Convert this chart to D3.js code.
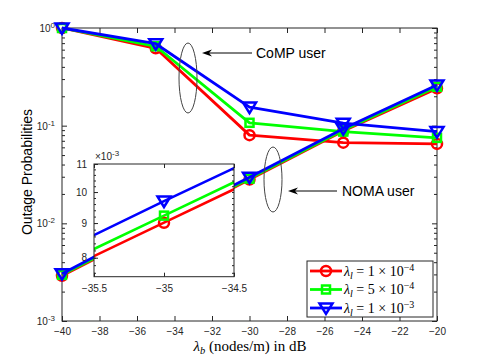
<!DOCTYPE html>
<html>
<head>
<meta charset="utf-8">
<script src="https://cdn.jsdelivr.net/npm/d3@7"></script>
<style>
  body { margin: 0; background: #fff; }
  svg { display: block; }
  .tk text { font-family: "Liberation Sans", Arial, sans-serif; font-size: 10px; fill: #262626; }
  .tk path, .tk line { stroke: #262626; }
</style>
</head>
<body>
<svg id="chart" width="485" height="361"></svg>
<script>
// x positions (dB)
var xVals = [-40, -35, -30, -25, -20];
var xTicks = [-40, -38, -36, -34, -32, -30, -28, -26, -24, -22, -20];
var yTicks = [1e-3, 1e-2, 1e-1, 1];

// CoMP user curves
var compRed = [1.0, 0.62, 0.080, 0.067, 0.065];
var compGreen = [1.0, 0.65, 0.107, 0.087, 0.075];
var compBlue = [1.0, 0.69, 0.155, 0.106, 0.087];

// NOMA user curves
var nomaRed = [0.0029, 0.00901, 0.0281, 0.088, 0.241];
var nomaGreen = [0.00297, 0.00923, 0.0287, 0.090, 0.250];
var nomaBlue = [0.00305, 0.0097, 0.0297, 0.093, 0.261];

var legendExp = ["1", "5", "1"];
var legendPow = ["\u22124", "\u22124", "\u22123"];

var insetXTicks = [-35.5, -35, -34.5];
var insetYTicks = [8e-3, 9e-3, 1e-2, 11e-3];

var series = [
  {color: "#ff0000", mark: "circle", comp: compRed, noma: nomaRed},
  {color: "#00ff00", mark: "square", comp: compGreen, noma: nomaGreen},
  {color: "#0000ff", mark: "tri", comp: compBlue, noma: nomaBlue}
];

var svg = d3.select("#chart");

var x = d3.scaleLinear().domain([-40, -20]).range([62, 437]);
var y = d3.scaleLog().domain([1e-3, 1]).range([321, 28]);

var xi = d3.scaleLinear().domain([-35.5, -34.5]).range([94, 234]);
var yi = d3.scaleLog().domain([7.5e-3, 11e-3]).range([276.7, 164]);

function minorLog(lo, hi) {
  var out = [];
  for (var e = lo; e < hi; e++) {
    for (var k = 2; k <= 9; k++) out.push(k * Math.pow(10, e));
  }
  return out;
}

function drawMarker(g, type, cx, cy, color) {
  if (type == "circle") {
    g.append("circle").attr("cx", cx).attr("cy", cy).attr("r", 5)
      .attr("fill", "none").attr("stroke", color).attr("stroke-width", 2.5);
  } else if (type == "square") {
    g.append("rect").attr("x", cx - 4).attr("y", cy - 4).attr("width", 8).attr("height", 8)
      .attr("fill", "none").attr("stroke", color).attr("stroke-width", 2.5);
  } else {
    g.append("path")
      .attr("d", "M" + (cx - 6.5) + "," + (cy - 4.5) + "L" + (cx + 6.5) + "," + (cy - 4.5) + "L" + cx + "," + (cy + 6) + "Z")
      .attr("fill", "none").attr("stroke", color).attr("stroke-width", 2.5);
  }
}

// main axes box and ticks
svg.append("rect").attr("x", 62).attr("y", 28).attr("width", 375).attr("height", 293)
  .attr("fill", "#fff").attr("stroke", "#262626").attr("stroke-width", 1);

svg.append("g").attr("class", "tk").attr("transform", "translate(0,321)")
  .call(d3.axisBottom(x).tickValues(xTicks).tickSize(-5).tickPadding(7).tickFormat(d3.format("d")));
svg.append("g").attr("class", "tk").attr("transform", "translate(0,28)")
  .call(d3.axisTop(x).tickValues(xTicks).tickSize(-5).tickFormat(""));

var yAx = svg.append("g").attr("class", "tk").attr("transform", "translate(62,0)")
  .call(d3.axisLeft(y).tickValues(yTicks).tickSize(-5).tickPadding(12).tickFormat(""));
yAx.selectAll(".tick text").each(function(d) {
  var t = d3.select(this);
  t.attr("x", -7).attr("dy", "0.35em");
  t.append("tspan").text("10");
  t.append("tspan").attr("dy", "-0.5em").attr("font-size", "8px").text(Math.round(Math.log10(d)) == 0 ? "0" : Math.round(Math.log10(d)));
});
svg.append("g").attr("class", "tk").attr("transform", "translate(62,0)")
  .call(d3.axisLeft(y).tickValues(minorLog(-3, 0)).tickSize(-3).tickFormat(""));
svg.append("g").attr("class", "tk").attr("transform", "translate(437,0)")
  .call(d3.axisRight(y).tickValues(yTicks).tickSize(-5).tickFormat(""));
svg.append("g").attr("class", "tk").attr("transform", "translate(437,0)")
  .call(d3.axisRight(y).tickValues(minorLog(-3, 0)).tickSize(-3).tickFormat(""));
svg.selectAll(".tk .domain").remove();

// main curves
var line = d3.line().x(function(d, i) { return x(xVals[i]); }).y(function(d) { return y(d); });
var plot = svg.append("g");
series.forEach(function(s) {
  [s.comp, s.noma].forEach(function(arr) {
    plot.append("path").datum(arr).attr("d", line)
      .attr("fill", "none").attr("stroke", s.color).attr("stroke-width", 2.8).attr("stroke-linejoin", "round");
    arr.forEach(function(v, i) { drawMarker(plot, s.mark, x(xVals[i]), y(v), s.color); });
  });
});

// inset
svg.append("clipPath").attr("id", "inclip").append("rect")
  .attr("x", 94).attr("y", 164).attr("width", 140).attr("height", 112.7);
svg.append("rect").attr("x", 94).attr("y", 164).attr("width", 140).attr("height", 112.7)
  .attr("fill", "#fff");
var ins = svg.append("g").attr("clip-path", "url(#inclip)");
var lineI = d3.line().x(function(d, i) { return xi(xVals[i]); }).y(function(d) { return yi(d); });
series.forEach(function(s) {
  ins.append("path").datum(s.noma).attr("d", lineI)
    .attr("fill", "none").attr("stroke", s.color).attr("stroke-width", 2.5);
  s.noma.forEach(function(v, i) { drawMarker(ins, s.mark, xi(xVals[i]), yi(v), s.color); });
});
svg.append("rect").attr("x", 94).attr("y", 164).attr("width", 140).attr("height", 112.7)
  .attr("fill", "none").attr("stroke", "#262626").attr("stroke-width", 1);

var insetMinor = [];
for (var v = 7.6; v <= 10.95; v += 0.2) insetMinor.push(v * 1e-3);

svg.append("g").attr("class", "tk").attr("transform", "translate(0,276.7)")
  .call(d3.axisBottom(xi).tickValues(insetXTicks).tickSize(-4).tickPadding(8).tickFormat(d3.format("")));
svg.append("g").attr("class", "tk").attr("transform", "translate(0,164)")
  .call(d3.axisTop(xi).tickValues(insetXTicks).tickSize(-4).tickFormat(""));
svg.append("g").attr("class", "tk").attr("transform", "translate(94,0)")
  .call(d3.axisLeft(yi).tickValues(insetYTicks).tickSize(-4).tickPadding(7)
    .tickFormat(function(d) { return Math.round(d * 1000); }));
svg.append("g").attr("class", "tk").attr("transform", "translate(94,0)")
  .call(d3.axisLeft(yi).tickValues(insetMinor).tickSize(-2).tickFormat(""));
svg.append("g").attr("class", "tk").attr("transform", "translate(234,0)")
  .call(d3.axisRight(yi).tickValues(insetMinor).tickSize(-2).tickFormat(""));
svg.selectAll(".tk .domain").remove();

var mult = svg.append("text").attr("x", 95).attr("y", 160)
  .attr("font-family", "Liberation Sans, Arial, sans-serif").attr("font-size", "10px").attr("fill", "#262626");
mult.append("tspan").text("\u00d710");
mult.append("tspan").attr("dy", "-0.45em").attr("font-size", "8px").text("-3");

// annotations
function arrow(x1, x2, yy) {
  svg.append("line").attr("x1", x1).attr("x2", x2 + 4).attr("y1", yy).attr("y2", yy)
    .attr("stroke", "#000").attr("stroke-width", 1);
  svg.append("path")
    .attr("d", "M" + x2 + "," + yy + "L" + (x2 + 10) + "," + (yy - 3.5) + "L" + (x2 + 7) + "," + yy + "L" + (x2 + 10) + "," + (yy + 3.5) + "Z")
    .attr("fill", "#000");
}
svg.append("ellipse").attr("cx", 188).attr("cy", 78).attr("rx", 9).attr("ry", 35)
  .attr("fill", "none").attr("stroke", "#444").attr("stroke-width", 1);
svg.append("ellipse").attr("cx", 273).attr("cy", 179.5).attr("rx", 9).attr("ry", 32.5)
  .attr("fill", "none").attr("stroke", "#444").attr("stroke-width", 1);
arrow(252, 202, 53);
arrow(337, 288, 191);
svg.append("text").attr("x", 256).attr("y", 58).text("CoMP user")
  .attr("font-family", "Liberation Sans, Arial, sans-serif").attr("font-size", "14px").attr("fill", "#000");
svg.append("text").attr("x", 342).attr("y", 196).text("NOMA user")
  .attr("font-family", "Liberation Sans, Arial, sans-serif").attr("font-size", "14px").attr("fill", "#000");

// legend
var lg = svg.append("g");
lg.append("rect").attr("x", 307).attr("y", 261).attr("width", 126).attr("height", 56)
  .attr("fill", "#fff").attr("stroke", "#262626").attr("stroke-width", 1);
series.forEach(function(s, i) {
  var ly = 271 + i * 18.5;
  lg.append("line").attr("x1", 310).attr("x2", 342).attr("y1", ly).attr("y2", ly)
    .attr("stroke", s.color).attr("stroke-width", 2.8);
  drawMarker(lg, s.mark, 326, ly, s.color);
  var t = lg.append("text").attr("x", 344).attr("y", ly + 4.5)
    .attr("font-family", "Liberation Serif, Times New Roman, serif").attr("font-size", "14px").attr("fill", "#000");
  t.append("tspan").attr("font-style", "italic").text("\u03bb");
  t.append("tspan").attr("font-style", "italic").attr("font-size", "10px").attr("dy", "3").text("l");
  t.append("tspan").attr("dy", "-3").text(" = " + legendExp[i] + " \u00d7 10");
  t.append("tspan").attr("font-size", "10px").attr("dy", "-5").text(legendPow[i]);
});

// axis labels
var xl = svg.append("text").attr("x", 250).attr("y", 351).attr("text-anchor", "middle")
  .attr("font-family", "Liberation Serif, Times New Roman, serif").attr("font-size", "15px").attr("fill", "#000");
xl.append("tspan").attr("font-style", "italic").text("\u03bb");
xl.append("tspan").attr("font-style", "italic").attr("font-size", "10.5px").attr("dy", "3").text("b");
xl.append("tspan").attr("dy", "-3").text(" (nodes/m) in dB");

svg.append("text").attr("transform", "translate(32,172) rotate(-90)").attr("text-anchor", "middle")
  .attr("font-family", "Liberation Sans, Arial, sans-serif").attr("font-size", "14px").attr("fill", "#000")
  .text("Outage Probabilities");
</script>
</body>
</html>
